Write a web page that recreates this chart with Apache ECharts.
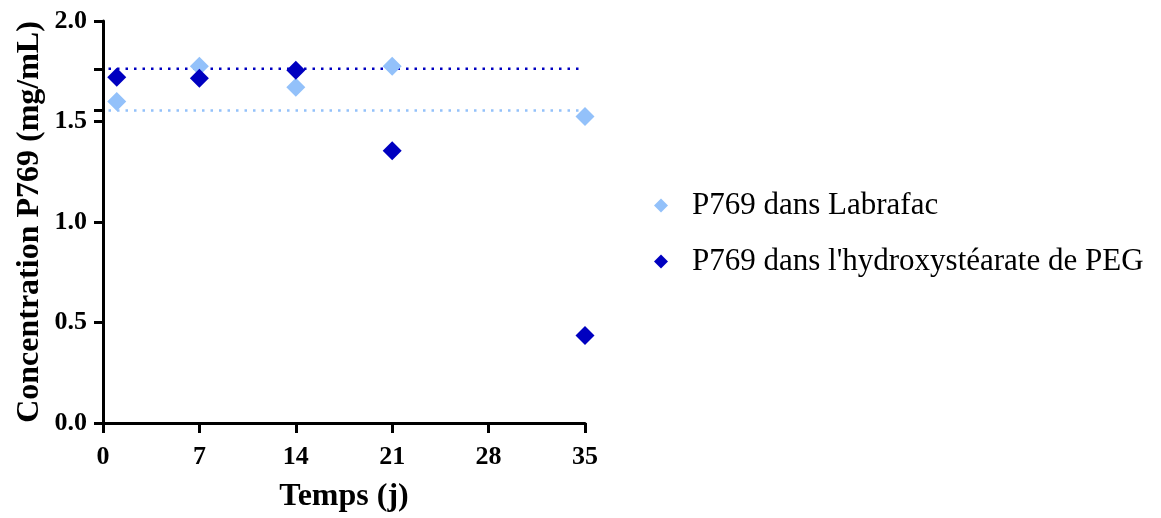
<!DOCTYPE html>
<html>
<head>
<meta charset="utf-8">
<script src="https://cdn.jsdelivr.net/npm/echarts@6/dist/echarts.min.js"></script>
<style>
html,body{margin:0;padding:0;background:#fff;}
#chart{width:1161px;height:518px;}
</style>
</head>
<body>
<div id="chart"></div>
<script>
// Data
const days = [1, 7, 14, 21, 35];
const labrafac = [1.60, 1.775, 1.67, 1.775, 1.525];
const peg = [1.72, 1.715, 1.755, 1.355, 0.435];
const refLabrafac = 1.555;
const refPeg = 1.762;
const refSpan = [0.4, 34.6];
const xTicks = [0, 7, 14, 21, 28, 35];
const names = ["P769 dans Labrafac", "P769 dans l'hydroxystéarate de PEG"];

const colLight = '#93c1fa';
const colDark = '#0000c0';
const serif = '"Liberation Serif", "Times New Roman", serif';

const chart = echarts.init(document.getElementById('chart'), null, {renderer: 'canvas'});
chart.setOption({
  animation: false,
  backgroundColor: '#fff',
  grid: {left: 103, right: 576, top: 21, bottom: 91, containLabel: false},
  legend: {
    orient: 'vertical',
    left: 649, top: 185,
    itemGap: 25,
    itemWidth: 14, itemHeight: 14,
    icon: 'diamond',
    textStyle: {fontFamily: serif, fontSize: 31, color: '#000', padding: [0,0,0,19]},
    data: names
  },
  xAxis: {
    type: 'value', min: 0, max: 35, interval: 7,
    name: 'Temps (j)', nameLocation: 'middle', nameGap: 58,
    nameTextStyle: {fontFamily: serif, fontSize: 32, fontWeight: 'bold', color: '#000'},
    axisLine: {lineStyle: {color: '#000', width: 3}},
    axisTick: {show: true, length: 10, lineStyle: {color: '#000', width: 3}},
    axisLabel: {fontFamily: serif, fontSize: 26, fontWeight: 'bold', color: '#000', margin: 21,
      customValues: xTicks},
    splitLine: {show: false}
  },
  yAxis: [{
    type: 'value', min: 0, max: 2.0, interval: 0.5,
    name: 'Concentration P769 (mg/mL)', nameLocation: 'middle', nameGap: 57,
    nameTextStyle: {fontFamily: serif, fontSize: 32, fontWeight: 'bold', color: '#000'},
    axisLine: {show: true, lineStyle: {color: '#000', width: 3}},
    axisTick: {show: true, length: 9, lineStyle: {color: '#000', width: 3}},
    axisLabel: {fontFamily: serif, fontSize: 26, fontWeight: 'bold', color: '#000', margin: 16,
      formatter: v => v.toFixed(1)},
    splitLine: {show: false}
  }, {
    type: 'value', min: 0, max: 2.0, position: 'left', offset: 0,
    axisLine: {show: false},
    axisLabel: {show: false},
    axisTick: {show: true, length: 9, lineStyle: {color: '#000', width: 3},
      customValues: [refLabrafac, refPeg]},
    splitLine: {show: false}
  }],
  series: [
    {
      name: names[0], type: 'scatter', symbol: 'diamond', symbolSize: 19,
      itemStyle: {color: colLight, opacity: 1},
      data: days.map((d, i) => [d, labrafac[i]]), z: 3
    },
    {
      name: names[1], type: 'scatter', symbol: 'diamond', symbolSize: 19,
      itemStyle: {color: colDark, opacity: 1},
      data: days.map((d, i) => [d, peg[i]]), z: 4
    },
    {
      type: 'line', showSymbol: false, symbol: 'none', silent: true,
      lineStyle: {color: colLight, width: 2.5, type: [2.5, 6]},
      data: refSpan.map(x => [x, refLabrafac]), z: 2
    },
    {
      type: 'line', showSymbol: false, symbol: 'none', silent: true,
      lineStyle: {color: colDark, width: 2.5, type: [2.5, 6]},
      data: refSpan.map(x => [x, refPeg]), z: 2
    }
  ]
});
</script>
</body>
</html>
